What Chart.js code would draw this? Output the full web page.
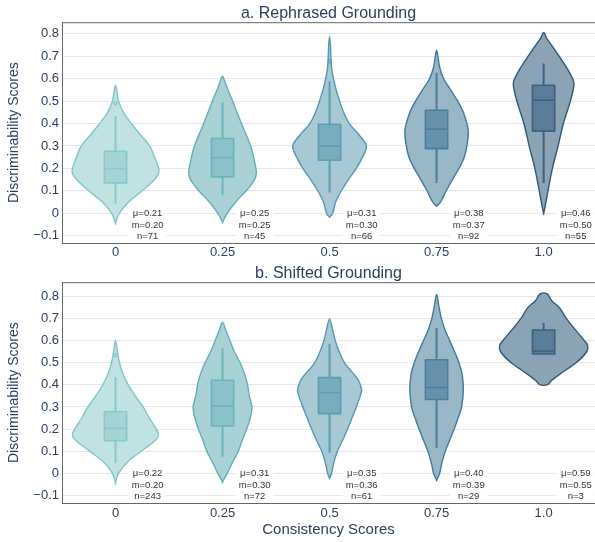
<!DOCTYPE html>
<html>
<head>
<meta charset="utf-8">
<script src="https://cdn.jsdelivr.net/npm/chart.js@4.4.1/dist/chart.umd.min.js"></script>
<style>
  body { margin: 0; background: #fff; }
  .wrap { position: relative; width: 595px; }
</style>
</head>
<body>
<div class="wrap" style="height:262px"><canvas id="chartA"></canvas></div>
<div class="wrap" style="height:280px"><canvas id="chartB"></canvas></div>
<script>
// categories and y tick labels
const categories = ['0', '0.25', '0.5', '0.75', '1.0'];
const yTicks = [-0.1, 0, 0.1, 0.2, 0.3, 0.4, 0.5, 0.6, 0.7, 0.8];

// a. Rephrased Grounding -- violin outlines as [score, relative density]
const violinA0 = [[-0.044,0],[0,0.09],[0.05,0.3],[0.1,0.61],[0.15,0.89],[0.184,0.99],[0.22,0.95],[0.25,0.89],[0.3,0.78],[0.35,0.57],[0.4,0.36],[0.45,0.18],[0.5,0.07],[0.54,0.035],[0.571,0]];
const violinA1 = [[-0.039,0],[0,0.11],[0.05,0.3],[0.1,0.54],[0.15,0.73],[0.18,0.77],[0.22,0.74],[0.3,0.64],[0.4,0.43],[0.5,0.23],[0.55,0.125],[0.6,0.03],[0.611,0]];
const violinA2 = [[-0.017,0],[0,0.07],[0.05,0.14],[0.1,0.27],[0.15,0.43],[0.2,0.61],[0.25,0.75],[0.3,0.84],[0.35,0.67],[0.4,0.45],[0.45,0.32],[0.5,0.23],[0.55,0.15],[0.6,0.09],[0.65,0.045],[0.7,0.03],[0.75,0.02],[0.787,0]];
const violinA3 = [[0.032,0],[0.05,0.09],[0.1,0.22],[0.15,0.36],[0.2,0.51],[0.25,0.63],[0.3,0.69],[0.37,0.72],[0.45,0.61],[0.5,0.48],[0.55,0.32],[0.6,0.16],[0.65,0.07],[0.7,0.03],[0.727,0]];
const violinA4 = [[-0.002,0],[0.03,0.034],[0.1,0.1],[0.2,0.2],[0.3,0.33],[0.4,0.45],[0.5,0.61],[0.57,0.69],[0.6,0.66],[0.65,0.52],[0.71,0.32],[0.75,0.18],[0.78,0.07],[0.806,0]];

// box stats: whisker low, q1, median, q3, whisker high
const boxLowA = [0.043, 0.080, 0.092, 0.135, 0.135];
const boxQ1A = [0.135, 0.162, 0.236, 0.288, 0.366];
const boxMedA = [0.199, 0.248, 0.299, 0.375, 0.504];
const boxQ3A = [0.276, 0.333, 0.397, 0.459, 0.571];
const boxHighA = [0.433, 0.494, 0.590, 0.626, 0.668];
const outliersA = [[0.49], [], [0.678], [], []];
const meanA = [0.21, 0.25, 0.31, 0.38, 0.46];
const medianA = [0.20, 0.25, 0.30, 0.37, 0.50];
const countA = [71, 45, 66, 92, 55];

// b. Shifted Grounding
const violinB0 = [[-0.043,0],[0,0.07],[0.05,0.27],[0.1,0.59],[0.14,0.86],[0.17,0.98],[0.2,0.93],[0.25,0.77],[0.3,0.63],[0.35,0.45],[0.4,0.29],[0.45,0.17],[0.5,0.09],[0.55,0.045],[0.601,0]];
const violinB1 = [[-0.038,0],[0,0.11],[0.05,0.23],[0.1,0.36],[0.15,0.45],[0.2,0.55],[0.25,0.63],[0.3,0.67],[0.35,0.61],[0.4,0.57],[0.45,0.5],[0.5,0.4],[0.55,0.27],[0.6,0.17],[0.65,0.07],[0.684,0]];
const violinB2 = [[-0.023,0],[0,0.045],[0.05,0.1],[0.1,0.18],[0.15,0.3],[0.2,0.41],[0.25,0.51],[0.3,0.61],[0.35,0.7],[0.38,0.73],[0.42,0.66],[0.45,0.55],[0.5,0.34],[0.55,0.22],[0.6,0.13],[0.65,0.07],[0.699,0]];
const violinB3 = [[-0.031,0],[0,0.07],[0.05,0.125],[0.1,0.2],[0.15,0.3],[0.2,0.4],[0.25,0.49],[0.3,0.57],[0.38,0.61],[0.45,0.58],[0.5,0.51],[0.55,0.41],[0.6,0.3],[0.65,0.19],[0.7,0.11],[0.75,0.057],[0.809,0]];
const violinB4 = [[0.401,0.09],[0.42,0.18],[0.45,0.38],[0.5,0.74],[0.55,0.98],[0.58,1.0],[0.6,0.93],[0.65,0.72],[0.7,0.52],[0.75,0.36],[0.78,0.19],[0.812,0.08]];

const boxLowB = [0.045, 0.074, 0.093, 0.115, 0.540];
const boxQ1B = [0.147, 0.214, 0.270, 0.334, 0.540];
const boxMedB = [0.203, 0.305, 0.365, 0.388, 0.553];
const boxQ3B = [0.278, 0.421, 0.433, 0.514, 0.648];
const boxHighB = [0.436, 0.567, 0.586, 0.659, 0.680];
const outliersB = [[0.534], [], [], [], []];
const meanB = [0.22, 0.31, 0.35, 0.40, 0.59];
const medianB = [0.20, 0.30, 0.36, 0.39, 0.55];
const countB = [243, 72, 61, 29, 3];

// styles
const lineColors = ['#80c6c8', '#60afb8', '#5299b0', '#417b9a', '#2f5877'];
const violinFills = ['#c0e2e3', '#a9d2d6', '#a6c9d5', '#98b7c7', '#8aa3b5'];
const boxFills = ['#a5d4d7', '#8bc1c8', '#79adbe', '#6692ab', '#5b7d97'];
const boxLines = ['#89c9cb', '#6cb3bb', '#5b9db1', '#4a7f9c', '#3a6383'];
const VIOLIN_HALF = 0.41;   // x units for density 1
const BOX_HALF = 0.104;
const ANNOT_DX = 0.3;
const ANNOT_Y = [0, -0.055, -0.105];
const FONT = "'Liberation Sans', Arial, sans-serif";
const TEXT = '#2a3f5f';

function smoothPath(ctx, pts) {
  const n = pts.length;
  ctx.moveTo(pts[0][0], pts[0][1]);
  for (let i = 0; i < n; i++) {
    const p0 = pts[(i - 1 + n) % n], p1 = pts[i], p2 = pts[(i + 1) % n], p3 = pts[(i + 2) % n];
    ctx.bezierCurveTo(
      p1[0] + (p2[0] - p0[0]) / 6, p1[1] + (p2[1] - p0[1]) / 6,
      p2[0] - (p3[0] - p1[0]) / 6, p2[1] - (p3[1] - p1[1]) / 6,
      p2[0], p2[1]);
  }
  ctx.closePath();
}

function violinPlugin(violins, box, ann) {
  return {
    id: 'violins',
    beforeDatasetsDraw(chart) {
      const ctx = chart.ctx, xs = chart.scales.x, ys = chart.scales.y;
      const area = chart.chartArea;
      ctx.save();
      violins.forEach((v, i) => {
        const right = v.map(([y, d]) => [xs.getPixelForValue(i + d * VIOLIN_HALF), ys.getPixelForValue(y)]);
        const left = v.slice().reverse().map(([y, d]) => [xs.getPixelForValue(i - d * VIOLIN_HALF), ys.getPixelForValue(y)]);
        const pts = [];
        right.concat(left).forEach(p => {
          const last = pts[pts.length - 1];
          if (!last || Math.abs(last[0] - p[0]) > 0.3 || Math.abs(last[1] - p[1]) > 0.3) pts.push(p);
        });
        ctx.beginPath();
        smoothPath(ctx, pts);
        ctx.fillStyle = violinFills[i];
        ctx.fill();
        ctx.lineWidth = 1.4;
        ctx.strokeStyle = lineColors[i];
        ctx.lineJoin = 'round';
        ctx.stroke();

        // whisker
        const cx = xs.getPixelForValue(i);
        ctx.beginPath();
        ctx.moveTo(cx, ys.getPixelForValue(box.low[i]));
        ctx.lineTo(cx, ys.getPixelForValue(box.q1[i]));
        ctx.moveTo(cx, ys.getPixelForValue(box.q3[i]));
        ctx.lineTo(cx, ys.getPixelForValue(box.high[i]));
        ctx.lineWidth = 2;
        ctx.strokeStyle = boxLines[i];
        ctx.stroke();
        // box
        const bl = xs.getPixelForValue(i - BOX_HALF), br = xs.getPixelForValue(i + BOX_HALF);
        const bt = ys.getPixelForValue(box.q3[i]), bb = ys.getPixelForValue(box.q1[i]);
        ctx.fillStyle = boxFills[i];
        ctx.fillRect(bl, bt, br - bl, bb - bt);
        ctx.lineWidth = 1.6;
        ctx.strokeRect(bl, bt, br - bl, bb - bt);
        const my = ys.getPixelForValue(box.med[i]);
        ctx.beginPath();
        ctx.moveTo(bl, my);
        ctx.lineTo(br, my);
        ctx.stroke();
      });

      // annotations
      ctx.font = '9.5px ' + FONT;
      ctx.textAlign = 'center';
      ctx.textBaseline = 'middle';
      ann.mean.forEach((m, i) => {
        const lines = ['\u03bc=' + m.toFixed(2), 'm=' + ann.median[i].toFixed(2), 'n=' + ann.count[i]];
        const ax = xs.getPixelForValue(i + ANNOT_DX);
        const w = Math.max(...lines.map(t => ctx.measureText(t).width)) + 6;
        const y0 = ys.getPixelForValue(ANNOT_Y[0]) - 6, y1 = ys.getPixelForValue(ANNOT_Y[2]) + 6;
        ctx.fillStyle = '#fff';
        ctx.fillRect(ax - w / 2, y0, w, y1 - y0);
        ctx.fillStyle = '#333';
        lines.forEach((t, k) => ctx.fillText(t, ax, ys.getPixelForValue(ANNOT_Y[k])));
      });

      // top frame line
      ctx.beginPath();
      ctx.moveTo(area.left, area.top + 0.5);
      ctx.lineTo(area.right, area.top + 0.5);
      ctx.lineWidth = 1;
      ctx.strokeStyle = '#666';
      ctx.stroke();
      ctx.restore();
    }
  };
}

function makeChart(id, title, violins, box, outliers, ann, yMin, yMax, opts) {
  const pts = [];
  outliers.forEach((arr, i) => arr.forEach(y => pts.push({ x: i, y: y })));
  return new Chart(document.getElementById(id), {
    type: 'scatter',
    data: {
      datasets: [{
        data: pts,
        pointRadius: 1.8,
        pointHoverRadius: 1.8,
        pointBackgroundColor: outliers.map((a, i) => a.length ? boxFills[i] : null).filter(Boolean),
        pointBorderColor: outliers.map((a, i) => a.length ? lineColors[i] : null).filter(Boolean),
        pointBorderWidth: 1
      }]
    },
    options: {
      responsive: true,
      maintainAspectRatio: false,
      animation: false,
      layout: { padding: 0, autoPadding: false },
      plugins: {
        legend: { display: false },
        tooltip: { enabled: false },
        title: {
          display: true,
          text: title,
          fullSize: false,
          color: TEXT,
          font: { family: FONT, size: 16, weight: 'normal' },
          padding: { top: opts.titleTop, bottom: -1 }
        }
      },
      scales: {
        x: {
          type: 'linear',
          min: -0.5,
          max: 4.48,
          afterBuildTicks: s => { s.ticks = categories.map((c, i) => ({ value: i })); },
          afterFit: s => { s.height = opts.xHeight; s.paddingLeft = 0; s.paddingRight = 0; },
          ticks: {
            callback: v => categories[v],
            color: TEXT,
            padding: opts.xPad,
            font: { family: FONT, size: 13 },
            maxRotation: 0
          },
          grid: { display: false, drawTicks: false },
          border: { color: '#666', width: 1 },
          title: {
            display: !!opts.xTitle,
            text: opts.xTitle || '',
            color: TEXT,
            font: { family: FONT, size: 15 },
            padding: { top: 0, bottom: 3 }
          }
        },
        y: {
          min: yMin,
          max: yMax,
          afterBuildTicks: s => { s.ticks = yTicks.map(v => ({ value: v })); },
          afterFit: s => { s.width = 62; },
          ticks: {
            callback: v => {
              const r = Math.round(v * 10) / 10;
              return r === 0 ? '0' : (r < 0 ? '\u2212' + (-r) : String(r));
            },
            color: TEXT,
            padding: 3,
            font: { family: FONT, size: 13 }
          },
          grid: { color: '#e6e6ea', lineWidth: 1, drawTicks: false },
          border: { color: '#666', width: 1 },
          title: {
            display: true,
            text: 'Discriminability Scores',
            color: TEXT,
            font: { family: FONT, size: 14 },
            padding: { top: 6, bottom: 0 }
          }
        }
      }
    },
    plugins: [violinPlugin(violins, box, ann)]
  });
}

makeChart('chartA', 'a. Rephrased Grounding',
  [violinA0, violinA1, violinA2, violinA3, violinA4],
  { low: boxLowA, q1: boxQ1A, med: boxMedA, q3: boxQ3A, high: boxHighA },
  outliersA, { mean: meanA, median: medianA, count: countA },
  -0.133, 0.852, { titleTop: 4, xHeight: 19, xPad: 2 });

makeChart('chartB', 'b. Shifted Grounding',
  [violinB0, violinB1, violinB2, violinB3, violinB4],
  { low: boxLowB, q1: boxQ1B, med: boxMedB, q3: boxQ3B, high: boxHighB },
  outliersB, { mean: meanB, median: medianB, count: countB },
  -0.135, 0.865, { titleTop: 2, xHeight: 39, xPad: 3, xTitle: 'Consistency Scores' });
</script>
</body>
</html>
